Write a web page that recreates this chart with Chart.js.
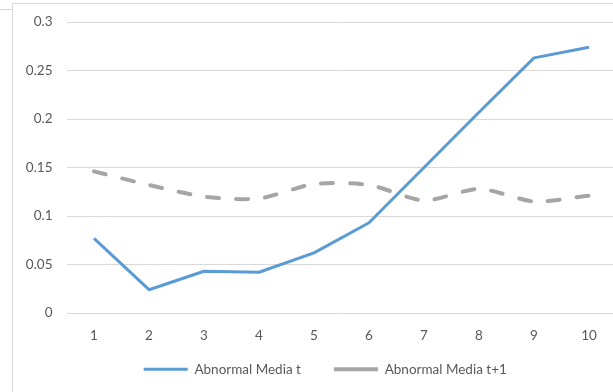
<!DOCTYPE html>
<html>
<head>
<meta charset="utf-8">
<script src="https://cdn.jsdelivr.net/npm/chart.js@4/dist/chart.umd.min.js"></script>
<style>
  html, body { margin: 0; padding: 0; width: 613px; height: 392px; overflow: hidden; background: #ffffff; }
  #tab { position: absolute; left: 0; top: 9px; width: 12px; height: 0; border-top: 1px solid #d9d9d9; }
  #frame { position: absolute; left: 12px; top: 3px; width: 660px; height: 430px;
           border-left: 1px solid #d9d9d9; border-top: 1px solid #d9d9d9; }
  #c { position: absolute; left: 0; top: 0; }
</style>
</head>
<body>
<div id="tab"></div>
<div id="frame"><canvas id="c" width="620" height="382" style="width:620px;height:382px"></canvas></div>
<script>
// Decile groups on the x axis
const categories = ['1', '2', '3', '4', '5', '6', '7', '8', '9', '10'];

// Series values
const abnormalMediaT  = [0.077, 0.024, 0.043, 0.042, 0.062, 0.093, 0.150, 0.207, 0.263, 0.274];
const abnormalMediaT1 = [0.146, 0.132, 0.120, 0.118, 0.133, 0.132, 0.116, 0.128, 0.115, 0.121];

// Value axis labels
const yTickLabels = ['0', '0.05', '0.1', '0.15', '0.2', '0.25', '0.3'];

const seriesNames = ['Abnormal Media t', 'Abnormal Media t+1'];

Chart.defaults.font.family = 'Lato, "Open Sans", sans-serif';
Chart.defaults.font.size = 13.5;
Chart.defaults.color = '#595959';

// Fixed axis sizes; tick labels may spill outside the axis box and do not push the plot area
const fixSize = (prop, size) => (s) => {
  s[prop] = size;
  s.paddingTop = 0;
  s.paddingBottom = 0;
  s._computeLabelArea = () => undefined;
};

new Chart(document.getElementById('c'), {
  type: 'line',
  data: {
    labels: categories,
    datasets: [
      {
        label: seriesNames[0],
        data: abnormalMediaT,
        borderColor: '#5B9BD5',
        backgroundColor: '#5B9BD5',
        borderWidth: 3,
        borderJoinStyle: 'round',
        pointRadius: 0,
        tension: 0,
        fill: false
      },
      {
        label: seriesNames[1],
        data: abnormalMediaT1,
        borderColor: '#A5A5A5',
        backgroundColor: '#A5A5A5',
        borderWidth: 4,
        borderDash: [12, 17],
        borderCapStyle: 'round',
        borderJoinStyle: 'round',
        pointRadius: 0,
        tension: 0.25,
        fill: false
      }
    ]
  },
  options: {
    responsive: false,
    animation: false,
    layout: { padding: { top: 18, left: 21, right: 16.5, bottom: 0 } },
    scales: {
      x: {
        offset: true,
        grid: { display: false, drawTicks: false },
        border: { display: false },
        ticks: { padding: 15 },
        afterFit: fixSize('height', 16.5)
      },
      y: {
        min: 0,
        max: 0.3,
        grid: { color: '#d9d9d9', lineWidth: 1, drawTicks: false },
        border: { display: false },
        ticks: {
          stepSize: 0.05,
          padding: 14,
          callback: (v, i) => yTickLabels[i]
        },
        afterFit: fixSize('width', 32.5)
      }
    },
    plugins: {
      tooltip: { enabled: false },
      legend: {
        position: 'bottom',
        labels: {
          usePointStyle: true,
          pointStyle: 'line',
          pointStyleWidth: 44,
          padding: 33,
          color: '#595959'
        }
      }
    }
  }
});
</script>
</body>
</html>
